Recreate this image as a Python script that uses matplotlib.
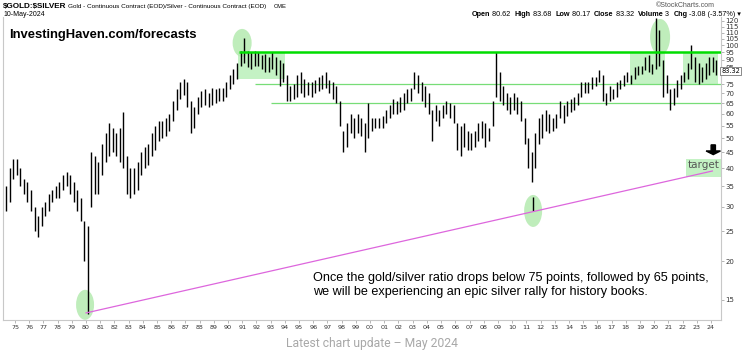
import matplotlib
matplotlib.use('Agg')
from matplotlib import pyplot as plt
from matplotlib.patches import Ellipse, Rectangle, FancyArrow
import matplotlib.transforms as mtransforms
import numpy as np

# quarterly high / low of the gold/silver ratio, 1974 Q2 .. 2024 Q2
highs = [35, 40, 43,
         43, 40, 37, 36,   34, 30, 28, 30,   31, 33, 34, 35,   36, 38, 39, 38,
         36, 34, 32, 27,   26, 45, 44, 42,   48, 52, 56, 54,   52, 54, 61, 44,
         40, 40, 42, 45,   47, 48, 52, 55,   57, 57, 58, 60,   66, 72, 76, 78,
         76, 66, 63, 68,   71, 72, 70, 73,   72, 73, 73, 76,   80, 84, 88, 96,
         106, 96, 95, 96,  95, 93, 94, 92,   95, 92, 90, 88,   80, 74, 75, 80,
         82, 78, 76, 76,   77, 79, 80, 82,   77, 76, 74, 66,   53, 56, 60, 58,
         60, 58, 56, 65,   58, 58, 58, 59,   62, 64, 67, 66,   68, 70, 72, 73,
         82, 80, 76, 74,   70, 62, 64, 62,   64, 66, 65, 64,   56, 55, 56, 53,
         52, 53, 56, 57,   56, 54, 66, 95,   82, 74, 70, 68,   70, 68, 66, 58,
         50, 45, 52, 58,   60, 62, 60, 58,   60, 66, 64, 66,   67, 68, 70, 76,
         76, 76, 79, 79,   83, 80, 70, 74,   72, 76, 77, 80,   82, 80, 85, 86,
         86, 92, 93, 87,   123, 112, 90, 80, 72, 73, 77, 80,   82, 88, 100, 92,
         88, 85, 88, 92,   92, 90]
lows = [29, 31, 37,
        38, 35, 33, 31,   29, 25, 24, 26,   28, 29, 31, 32,   32, 34, 35, 33,
        31, 29, 27, 20,   13.5, 30, 33, 33, 38, 42, 44, 45,   44, 42, 40, 33,
        32, 33, 34, 38,   40, 41, 44, 46,   49, 50, 51, 53,   57, 62, 67, 69,
        63, 52, 54, 60,   63, 64, 63, 64,   65, 66, 66, 68,   72, 75, 78, 86,
        88, 85, 84, 86,   86, 84, 82, 82,   84, 80, 74, 76,   66, 66, 67, 68,
        70, 68, 69, 68,   70, 71, 72, 73,   70, 67, 65, 55,   45, 47, 52, 50,
        52, 51, 45, 50,   53, 54, 54, 54,   56, 58, 60, 60,   61, 62, 65, 66,
        72, 70, 66, 63,   60, 49, 57, 55,   58, 60, 58, 56,   46, 44, 47, 46,
        46, 47, 49, 50,   47, 49, 55, 68,   66, 64, 62, 60,   62, 60, 57, 48,
        40, 36, 40, 48,   50, 53, 52, 53,   54, 58, 56, 59,   61, 62, 64, 68,
        70, 70, 72, 74,   76, 66, 64, 66,   67, 68, 72, 74,   76, 75, 78, 80,
        81, 83, 82, 81,   84, 86, 68, 70,   62, 64, 68, 72,   76, 78, 84, 76,
        75, 76, 78, 80,   82, 80]
first_quarter = 1974.375
last_close = 83.32

levels = [95, 75, 65]
level_start = [1990.8, 1991.9, 1993.0]
trend_years = [1980.0, 2024.1]
trend_vals = [13.6, 39.2]
# highlighted turning points (year, value)
spot_years = [1979.93, 1990.99, 2011.48, 2020.42]
spot_vals = [14.45, 101.9, 29.1, 106.5]
# green zones (year from, year to, low, high)
zones = [(1990.7, 1994.0, 78, 95), (2018.3, 2020.8, 75, 95), (2022.0, 2024.5, 75, 95)]
target_zone = (2022.25, 2024.72, 37.5, 43)

years = first_quarter + 0.25 * np.arange(len(highs))

fig = plt.figure(figsize=(7.45, 3.57), dpi=100)
ax = fig.add_axes([0.004, 0.1036, 0.964, 0.8487])
ax.set_yscale('log')
ax.set_xlim(1974.15, 2024.72)
ax.set_ylim(12.9, 123.6)

for z in zones:
    ax.add_patch(Rectangle((z[0], z[2]), z[1] - z[0], z[3] - z[2],
                           facecolor='#c4f2c4', edgecolor='none', zorder=1))
tz = target_zone
ax.add_patch(Rectangle((tz[0], tz[2]), tz[1] - tz[0], tz[3] - tz[2],
                       facecolor='#c4f2c4', edgecolor='none', zorder=1))
ax.text((tz[0] + tz[1]) / 2, 41.0, 'target', ha='center', va='center',
        fontsize=7.5, color='#555555', zorder=5)

sizes = [(0.18, 0.30), (0.19, 0.28), (0.18, 0.32), (0.20, 0.36)]
for yr, v, (w, h) in zip(spot_years, spot_vals, sizes):
    tr = fig.dpi_scale_trans + mtransforms.ScaledTranslation(yr, v, ax.transData)
    ax.add_patch(Ellipse((0, 0), w, h, transform=tr, facecolor='#b4eab0',
                         edgecolor='none', alpha=0.85, zorder=1))
ax.vlines(2011.45, 29.0, 32.3, color='black', lw=1.0, zorder=4)

ax.vlines(years, lows, highs, color='black', lw=1.0, zorder=3)

ax.hlines(levels[0], level_start[0], 2024.72, color='#00dd00', lw=1.8, zorder=4)
ax.hlines(levels[1:], level_start[1:], 2024.72, color='#77dd77', lw=0.9, zorder=2)

ax.plot(trend_years, trend_vals, color='#dd66dd', lw=0.9, zorder=4)

ax.add_patch(FancyArrow(0.989, 0.578, 0, -0.02, width=0.006, head_width=0.02,
                        head_length=0.012, transform=ax.transAxes,
                        color='black', zorder=6))

# axes styling
for s in ['left', 'right', 'bottom']:
    ax.spines[s].set_color('#c8c8c8')
ax.spines['top'].set_visible(False)
ax.yaxis.tick_right()
yt = [15, 20, 25, 30, 35, 40, 45, 50, 55, 60, 65, 70, 75, 80, 85, 90, 95,
      100, 105, 110, 115, 120]
ax.set_yticks(yt)
ax.set_yticklabels(['' if v == 80 else str(v) for v in yt])
ax.yaxis.set_minor_locator(matplotlib.ticker.NullLocator())
ax.tick_params(axis='y', labelsize=5, colors='#333333', length=2, pad=1,
               width=0.5)
ax.tick_params(axis='y', color='#999999')
xt = list(range(1975, 2025))
ax.set_xticks(xt)
ax.set_xticklabels(['%02d' % (y % 100) for y in xt])
ax.tick_params(axis='x', labelsize=4.6, colors='#333333', length=2, pad=1.5,
               width=0.5)
ax.tick_params(axis='x', color='#999999')

ax.text(1.0, last_close - 0.6, '%.2f' % last_close, transform=ax.get_yaxis_transform(),
        fontsize=4.8, ha='left', va='center', color='black', zorder=7,
        bbox=dict(boxstyle='square,pad=0.1', facecolor='white',
                  edgecolor='#777777', lw=0.6), clip_on=False)

ax.text(0.008, 0.94, 'InvestingHaven.com/forecasts', transform=ax.transAxes,
        fontsize=9.4, fontweight='bold', family='Liberation Sans',
        ha='left', va='center')
ax.text(0.432, 0.115,
        'Once the gold/silver ratio drops below 75 points, followed by 65 points,\n'
        'we will be experiencing an epic silver rally for history books.',
        transform=ax.transAxes, fontsize=9.1, family='Liberation Sans',
        ha='left', va='center', linespacing=1.15)

# header
fig.text(0.004, 0.983, '\\$GOLD:\\$SILVER', fontsize=5.9, fontweight='bold',
         family='Liberation Sans', va='center')
fig.text(0.0913, 0.983, 'Gold - Continuous Contract (EOD)/Silver - Continuous Contract (EOD)',
         fontsize=4.6, family='Liberation Sans', va='center')
fig.text(0.367, 0.983, 'CME', fontsize=4.2, family='Liberation Sans', va='center')
fig.text(0.004, 0.958, '10-May-2024', fontsize=5, family='Liberation Sans',
         va='center')
fig.text(0.96, 0.985, '\u00a9StockCharts.com', fontsize=5, color='#555555',
         family='Liberation Sans', ha='right', va='center')

parts = [('Open', True), (' 80.62  ', False), ('High', True), (' 83.68  ', False),
         ('Low', True), (' 80.17  ', False), ('Close', True), (' 83.32  ', False),
         ('Volume', True), (' 3  ', False), ('Chg', True), (' -3.08 (-3.57%) \u25be', False)]
fig.canvas.draw()
renderer = fig.canvas.get_renderer()
xpos = 472
for txt, bold in parts:
    t = fig.text(xpos / 745, 1 - 14 / 357, txt, fontsize=5.2,
                 fontweight='bold' if bold else 'normal',
                 family=['Liberation Sans', 'DejaVu Sans'], va='center')
    xpos = t.get_window_extent(renderer).x1

fig.text(0.5, 1 - 344 / 357, 'Latest chart update \u2013 May 2024', fontsize=8.7,
         color='#a8a8a8', family='Roboto', ha='center', va='center')

fig.savefig('out.png', dpi=100)
plt.close()
